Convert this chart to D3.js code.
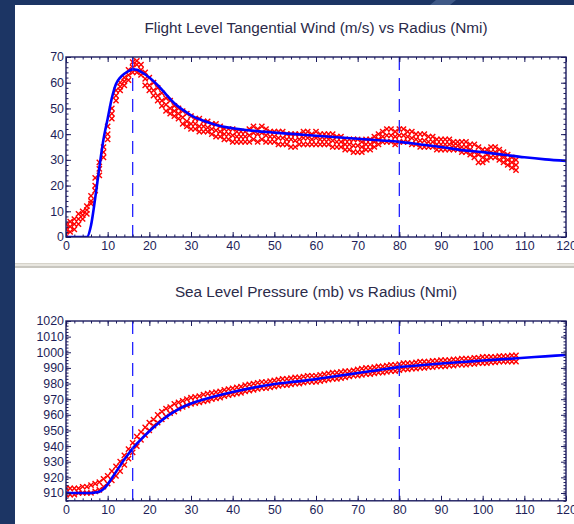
<!DOCTYPE html>
<html lang="en">
<head>
<meta charset="UTF-8">
<title>Flight Level Wind and Sea Level Pressure vs Radius</title>
<script src="https://d3js.org/d3.v7.min.js"></script>
<style>
    body { margin: 0; padding: 0; background: #1c3564; overflow: hidden; }
    .title { font-family: 'Liberation Sans', Arial, sans-serif; fill: #2b2b4a; }
    .axis text { font-family: 'Liberation Sans', Arial, sans-serif; font-size: 12.4px; fill: #1e1e58; }
    .axis path, .axis line { stroke: #1b1b5e; }
</style>
</head>
<body>
<div id="chart"></div>
<script>
// observation radii (Nmi)
const obsRadius = [0,1,2,3,4,5,6,7,8,9,10,11,12,13,14,15,16,17,18,19,20,21,22,23,24,25,26,27,28,29,
    30,31,32,33,34,35,36,37,38,39,40,41,42,43,44,45,46,47,48,49,50,51,52,53,54,55,56,57,58,59,
    60,61,62,63,64,65,66,67,68,69,70,71,72,73,74,75,76,77,78,79,80,81,82,83,84,85,86,87,88,89,
    90,91,92,93,94,95,96,97,98,99,100,101,102,103,104,105,106,107,108];

// flight level tangential wind obs (m/s), three passes
const windPass1 = [5,6,7,9,10,12,16,23,29,35,43,50,57,60,62,65,68,68.5,67,64,62,60,58,56,54,53,51,50,49,48,
    47,46,46,45,45,44,44,43,42,42,42,41,41,41,42,43,42,43,42,41,41,41,41,40,40,40,40,41,41,40,
    41,40,40,40,40,39,39,38,38,38,38,37,38,38,39,40,41,42,42,41,42,42,41,41,40,40,40,39,39,38,
    38,38,38,37,37,37,37,36,36,35,34,34,35,35,34,33,32,31,30];
const windPass2 = [3,4,5,7,8.5,10.5,14,20,26.5,33,40,48,55,58.5,60.5,63,66,67,65,61.5,59,57,55,53,51.5,50,49,48,46.5,45,
    44,44,43,43,42.5,42,41.5,41,40,40,39.5,39,39,39,39.5,40.5,40,40.5,39.5,39,39,38.5,38.5,38,38,37.5,38,38.5,38.5,38,
    38.5,38,38,38,37.5,37,37,36,36,35.5,35.5,35,36,36,37,38,39,39.5,39.5,39,39.5,39.5,39,38.5,38,37.5,37.5,37,37,36,
    36,36,36,35.5,35.5,35,35,34,33,32,31,32,33,33,32,31,30,29,28];
const windPass3 = [1,2,3,5,7,9,13,18,24,31,38,46,53,57,59,61,64,64,63,59,57,55,53,51,49,48,47,46,44,43,
    42,42,41,41,41,40,39,39,38,38,37,37,37,37,37,38,37,38,37,37,37,36,36,36,35,35,36,36,36,36,
    36,36,36,36,35,35,35,34,34,33,33,33,34,34,35,36,37,37,37,36,37,37,37,36,36,35,35,35,35,34,
    34,34,34,34,34,33,33,32,31,29,29,30,31,31,30,29,28,27,26];

// sea level pressure obs (mb), upper and lower pass
const presPass1 = [913,913,913,913,914,914,915,916,917,919,921,924,927,930,934,938,942,946,949,952,955,957,960,962,964,965,967,968,969,970,
    971,971.5,972,973,973.5,974,974.5,975,976,976.5,977,977.5,978,979,979.5,980,980.5,981,981,981.5,982,982.5,983,983,983.5,984,984,984.5,985,985,
    985,985.5,986,986.5,987,987,987.5,988,988,988.5,989,989.5,990,990,990.5,991,991,991.5,992,992,992.5,993,993,993,993.5,994,994,994,994.5,994.5,
    995,995,995,995.5,995.5,996,996,996,996.5,996.5,997,997,997,997,997.5,997.5,997.5,998,998];
const presPass2 = [909,909,909,910,910,910,910,911,912,914,916,918,921,924,928,932,936,940,944,947,950,953,955,957,959,961,962,964,965,966,
    967,967.5,968,968.5,969,970,970.5,971,972,972.5,973,973.5,974,975,975.5,976,976.5,977,977,977.5,978,978.5,979,979,979.5,980,980,980.5,981,981,
    981,981.5,982,982.5,983,983,983.5,984,984.5,985,985,985.5,986,986,986.5,987,987,987.5,988,988,988.5,989,989,989.5,989.5,990,990,990.5,990.5,991,
    991,991,991.5,991.5,992,992,992,992.5,992.5,993,993,993,993.5,993.5,994,994,994,994,994];

// model profiles
const modelRadius = [0,2,4,5,6,7,8,9,10,11,12,13,14,15,16,17,18,20,22,24,26,28,30,33,36,40,45,50,55,60,65,70,75,80,85,90,95,100,105,110,115,120];
const windModel = [0,0,0,0,4.5,15,27,38,46,54,59.5,62,63.5,64.5,65.2,65,64.2,62,59,55.5,52,49.5,47.3,45.2,43.6,42.3,41.3,40.6,40,39.4,38.8,38.2,37.6,37,36,35,33.8,33,32,31,30.2,29.6];
const presModel = [910,910,910,910,910,910.3,910.8,912.5,915.5,919.5,923.5,927.5,931.5,935,938.5,941.5,944.3,949.5,954.3,958.5,962,965,967.2,969.8,972,974.6,977.4,979.7,981.2,982.8,984.8,986.7,988.6,990.5,991.7,992.8,993.8,994.7,995.6,996.5,997.4,998.3];

// radius of max wind and outer reference radius
const refRadii = [16, 80];

const xTicks = [0,10,20,30,40,50,60,70,80,90,100,110,120];
const windTicks = [0,10,20,30,40,50,60,70];
const presTicks = [910,920,930,940,950,960,970,980,990,1000,1010,1020];

const W = 574, H = 524;
const svg = d3.select("#chart").append("svg")
    .attr("width", W).attr("height", H);

svg.append("rect").attr("width", W).attr("height", H).attr("fill", "#1c3564");
// lighter streak at the top edge
svg.append("path").attr("d", "M436,0L456,0L450,5L430,5Z").attr("fill", "#4f6a96").attr("opacity", 0.7);

// white panels and separator
svg.append("rect").attr("x", 15).attr("y", 5).attr("width", W - 15).attr("height", 258).attr("fill", "#ffffff");
svg.append("rect").attr("x", 15).attr("y", 263).attr("width", W - 15).attr("height", 5).attr("fill", "#e8e6df");
svg.append("line").attr("x1", 15).attr("x2", W).attr("y1", 263.5).attr("y2", 263.5).attr("stroke", "#d6d3ca");
svg.append("line").attr("x1", 15).attr("x2", W).attr("y1", 267).attr("y2", 267).attr("stroke", "#a9a7a0");
svg.append("rect").attr("x", 15).attr("y", 268).attr("width", W - 15).attr("height", H - 268).attr("fill", "#ffffff");

const markerPath = "M-2.6,-2.6L2.6,2.6M-2.6,2.6L2.6,-2.6";

function drawPanel(cfg) {
    const x = d3.scaleLinear().domain([0, 120]).range([66, 566]);
    const y = d3.scaleLinear().domain(cfg.yDomain).range([cfg.bottom, cfg.top]);
    const g = svg.append("g");

    g.append("text").attr("class", "title")
        .attr("x", 316).attr("y", cfg.titleY)
        .attr("text-anchor", "middle")
        .style("font-size", "15.3px")
        .text(cfg.title);

    const clipId = "clip" + cfg.id;
    g.append("clipPath").attr("id", clipId).append("rect")
        .attr("x", 66).attr("y", cfg.top).attr("width", 500).attr("height", cfg.bottom - cfg.top);

    const plot = g.append("g").attr("clip-path", "url(#" + clipId + ")");

    // observations
    cfg.obs.forEach(series => {
        plot.append("g").selectAll("path")
            .data(obsRadius.map((r, i) => [r, series[i]]))
            .join("path")
            .attr("d", markerPath)
            .attr("transform", d => "translate(" + x(d[0]) + "," + y(d[1]) + ")")
            .attr("fill", "none")
            .attr("stroke", "#ff0000")
            .attr("stroke-width", 1.4);
    });

    // model curve
    const line = d3.line()
        .x(d => x(d[0]))
        .y(d => y(d[1]))
        .curve(d3.curveMonotoneX);
    plot.append("path")
        .datum(modelRadius.map((r, i) => [r, cfg.model[i]]))
        .attr("d", line)
        .attr("fill", "none")
        .attr("stroke", "#0000ff")
        .attr("stroke-width", 2.6);

    // reference radii
    plot.selectAll("line.ref")
        .data(refRadii)
        .join("line")
        .attr("class", "ref")
        .attr("x1", d => x(d)).attr("x2", d => x(d))
        .attr("y1", cfg.top).attr("y2", cfg.bottom)
        .attr("stroke", "#2424ff")
        .attr("stroke-width", 1.3)
        .attr("stroke-dasharray", "13,8");

    // axes, ticks pointing inward
    const xMinor = d3.range(0, 121, 2);
    const yMinor = d3.range(cfg.yDomain[0], cfg.yDomain[1] + 0.1, 2);

    g.append("g").attr("class", "axis").attr("transform", "translate(0," + cfg.bottom + ")")
        .call(d3.axisBottom(x).tickValues(xMinor).tickSize(-2.5).tickFormat(""));
    g.append("g").attr("class", "axis").attr("transform", "translate(0," + cfg.bottom + ")")
        .call(d3.axisBottom(x).tickValues(xTicks).tickSize(-5).tickPadding(4.5).tickFormat(d3.format("d")));
    g.append("g").attr("class", "axis").attr("transform", "translate(0," + cfg.top + ")")
        .call(d3.axisTop(x).tickValues(xMinor).tickSize(-2.5).tickFormat(""));
    g.append("g").attr("class", "axis").attr("transform", "translate(0," + cfg.top + ")")
        .call(d3.axisTop(x).tickValues(xTicks).tickSize(-5).tickFormat(""));

    g.append("g").attr("class", "axis").attr("transform", "translate(66,0)")
        .call(d3.axisLeft(y).tickValues(yMinor).tickSize(-2.5).tickFormat(""));
    g.append("g").attr("class", "axis").attr("transform", "translate(66,0)")
        .call(d3.axisLeft(y).tickValues(cfg.yTicks).tickSize(-5).tickPadding(2).tickFormat(d3.format("d")));
    g.append("g").attr("class", "axis").attr("transform", "translate(566,0)")
        .call(d3.axisRight(y).tickValues(yMinor).tickSize(-2.5).tickFormat(""));
    g.append("g").attr("class", "axis").attr("transform", "translate(566,0)")
        .call(d3.axisRight(y).tickValues(cfg.yTicks).tickSize(-5).tickFormat(""));

    g.selectAll(".axis .domain").remove();
    g.append("rect")
        .attr("x", 66).attr("y", cfg.top)
        .attr("width", 500).attr("height", cfg.bottom - cfg.top)
        .attr("fill", "none").attr("stroke", "#1b1b5e").attr("stroke-width", 1.4);
}

drawPanel({
    id: "wind",
    title: "Flight Level Tangential Wind (m/s) vs Radius (Nmi)",
    titleY: 33,
    top: 57, bottom: 237,
    yDomain: [0, 70],
    yTicks: windTicks,
    obs: [windPass1, windPass2, windPass3],
    model: windModel
});

drawPanel({
    id: "pres",
    title: "Sea Level Pressure (mb) vs Radius (Nmi)",
    titleY: 297,
    top: 321, bottom: 500.8,
    yDomain: [905, 1020],
    yTicks: presTicks,
    obs: [presPass1, presPass2],
    model: presModel
});
</script>
</body>
</html>
